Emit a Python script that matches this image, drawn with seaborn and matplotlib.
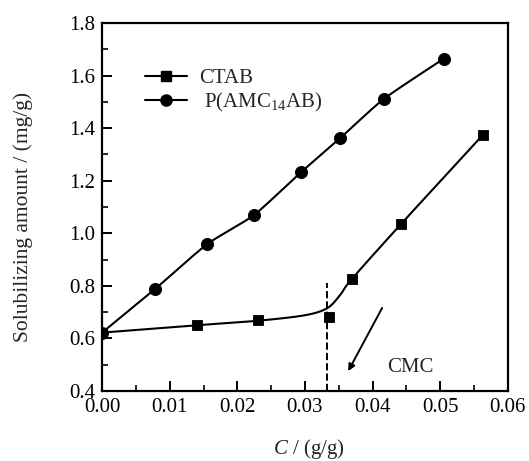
import numpy as np
import pandas as pd
import matplotlib
matplotlib.use("Agg")
import matplotlib.pyplot as plt
from matplotlib.ticker import MultipleLocator, FormatStrFormatter
import seaborn as sns

sns.set_theme(style="ticks")
plt.rcParams["font.family"] = ["Liberation Serif", "DejaVu Serif"]
plt.rcParams["mathtext.fontset"] = "custom"
plt.rcParams["mathtext.rm"] = "Liberation Serif"
plt.rcParams["mathtext.it"] = "Liberation Serif:italic"

# data
ctab_c = [0.0, 0.0140, 0.0230, 0.0335, 0.0369, 0.0442, 0.0563]
ctab_s = [0.622, 0.651, 0.670, 0.680, 0.825, 1.035, 1.374]

poly_c = [0.0, 0.0078, 0.0155, 0.0225, 0.0294, 0.0352, 0.0417, 0.0505]
poly_s = [0.622, 0.787, 0.958, 1.070, 1.232, 1.362, 1.512, 1.664]

# fitted CTAB curve (drawn by hand in the original)
ctab_fit_c = [0.0, 0.0140, 0.0230, 0.0300, 0.0333, 0.0352, 0.0369, 0.0442, 0.0563]
ctab_fit_s = [0.622, 0.650, 0.667, 0.688, 0.715, 0.765, 0.825, 1.035, 1.374]

cmc = 0.0332


def smooth(xs, ys, n=40, tension=0.6):
    # smoothed line (cardinal spline), only used for drawing
    x = np.asarray(xs, float)
    y = np.asarray(ys, float)
    px = np.concatenate([[x[0]], x, [x[-1]]])
    py = np.concatenate([[y[0]], y, [y[-1]]])
    t = np.linspace(0, 1, n)
    h00 = 2 * t ** 3 - 3 * t ** 2 + 1
    h10 = t ** 3 - 2 * t ** 2 + t
    h01 = -2 * t ** 3 + 3 * t ** 2
    h11 = t ** 3 - t ** 2
    out_x, out_y = [], []
    for i in range(1, len(px) - 2):
        for arr, out in ((px, out_x), (py, out_y)):
            p0, p1, p2, p3 = arr[i - 1], arr[i], arr[i + 1], arr[i + 2]
            m1 = tension * (p2 - p0) / 2
            m2 = tension * (p3 - p1) / 2
            out.extend(h00 * p1 + h10 * m1 + h01 * p2 + h11 * m2)
    return out_x, out_y


fig = plt.figure(figsize=(5.29, 4.61), dpi=100)
ax = fig.add_axes([0.193, 0.152, 0.767, 0.798])

fx, fy = smooth(ctab_fit_c, ctab_fit_s, tension=0.9)
sns.lineplot(x=fx, y=fy, ax=ax, color="black", lw=1.5, sort=False, estimator=None)
gx, gy = smooth(poly_c, poly_s)
sns.lineplot(x=gx, y=gy, ax=ax, color="black", lw=1.5, sort=False, estimator=None)

sns.scatterplot(x=ctab_c, y=ctab_s, ax=ax, marker="s", s=60, color="black",
                edgecolor="black", zorder=3)
sns.scatterplot(x=poly_c, y=poly_s, ax=ax, marker="o", s=75, color="black",
                edgecolor="black", zorder=3)

# legend handles
ax.plot([], [], "-s", color="black", ms=7, lw=1.5, label="CTAB")
ax.plot([], [], "-o", color="black", ms=8, lw=1.5, label=r" P(AMC$_{14}$AB)")
ax.legend(loc="upper left", bbox_to_anchor=(0.06, 0.928), frameon=False,
          fontsize=15, handlelength=2.0, handletextpad=0.6, labelspacing=0.15)

# CMC marker
ax.plot([cmc, cmc], [0.4, 0.811], color="black", ls="--", lw=1.4)
ax.annotate("", xy=(0.0362, 0.466), xytext=(0.0416, 0.725),
            arrowprops=dict(arrowstyle="-|>", color="black", lw=1.4,
                            mutation_scale=10))
ax.text(0.0456, 0.49, "CMC", fontsize=15, ha="center", va="center")

ax.set_xlim(0, 0.06)
ax.set_ylim(0.4, 1.8)
ax.xaxis.set_major_locator(MultipleLocator(0.01))
ax.xaxis.set_minor_locator(MultipleLocator(0.005))
ax.yaxis.set_major_locator(MultipleLocator(0.2))
ax.yaxis.set_minor_locator(MultipleLocator(0.1))
ax.xaxis.set_major_formatter(FormatStrFormatter("%.2f"))
ax.yaxis.set_major_formatter(FormatStrFormatter("%.1f"))
ax.tick_params(which="major", direction="in", length=7, width=1.4,
               labelsize=15, pad=5, colors="black")
ax.tick_params(which="minor", direction="in", length=4, width=1.4)
for s in ax.spines.values():
    s.set_linewidth(1.6)
    s.set_color("black")

ax.set_xlabel(r"$\it{C}$ / (g/g)", fontsize=15)
ax.set_ylabel("Solubilizing amount / (mg/g)", fontsize=15.5)
ax.xaxis.set_label_coords(0.51, -0.125)
ax.yaxis.set_label_coords(-0.17, 0.473)

fig.savefig("out.png", dpi=100)
